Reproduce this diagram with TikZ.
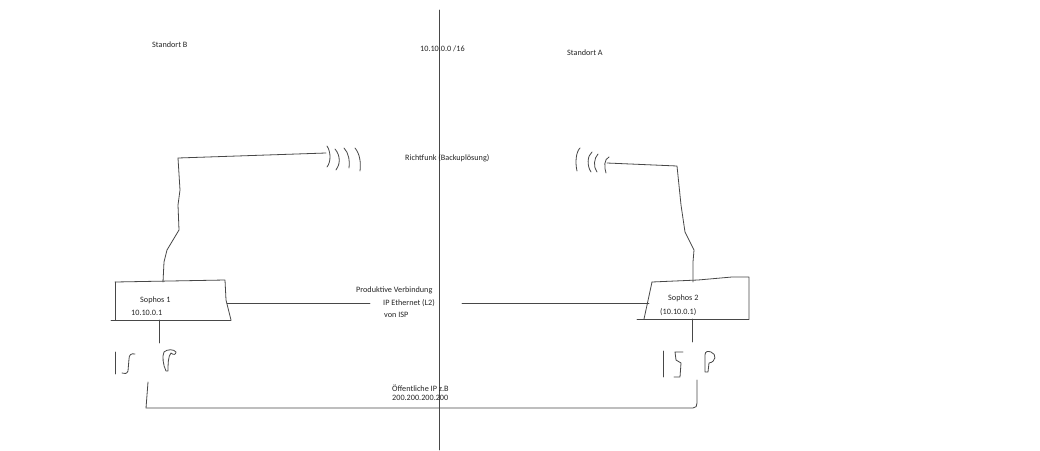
\documentclass[tikz,border=0pt]{standalone}
\usepackage{fontspec}
\setmainfont{Carlito}
\begin{document}
\begin{tikzpicture}[x=1pt,y=-1pt,
  pen/.style={draw=black!72,line width=0.8pt,line join=round,line cap=round},
  lbl/.style={anchor=west,inner sep=0pt,font=\fontsize{8.2}{9}\selectfont,text=black!85}]
\useasboundingbox (0,0) rectangle (1040,450);
\fill[white] (0,0) rectangle (1040,450);
% divider
\coordinate (dtop) at (439.5,10);
\coordinate (dbot) at (439.5,450);
\draw[pen] (dtop) -- (dbot);
% labels
\node[lbl] (stb) at (152,45) {Standort B};
\node[lbl] (net) at (420,49) {10.10.0.0 /16};
\node[lbl] (sta) at (567,53) {Standort A};
\node[lbl] (rf) at (405,158) {Richtfunk (Backuplösung)};
\node[lbl] (pv1) at (356,290) {Produktive Verbindung};
\node[lbl] (pv2) at (383,303) {IP Ethernet (L2)};
\node[lbl] (pv3) at (384,315) {von ISP};
\node[lbl] (oip1) at (392,388) {Öffentliche IP z.B};
\node[lbl] (oip2) at (392,398) {200.200.200.200};
% Sophos 1 box
\coordinate (s1tl) at (115,282);
\coordinate (s1tr) at (225,280);
\coordinate (s1br) at (231,320);
\coordinate (s1bl) at (115,320);
\draw[pen] (s1tl) -- (s1tr) -- (226,300) -- (s1br);
\draw[pen] (s1tl) -- (s1bl);
\draw[pen] (111,320) -- (s1br);
\node[lbl] (s1a) at (140,300) {Sophos 1};
\node[lbl] (s1b) at (131,313) {10.10.0.1};
% Sophos 2 box
\coordinate (s2tl) at (652,282);
\coordinate (s2tr) at (749,277);
\coordinate (s2br) at (749,319);
\coordinate (s2bl) at (644,319);
\draw[pen] (s2tl) -- (698,280) -- (732,277) -- (s2tr) -- (s2br);
\draw[pen] (s2tl) -- (s2bl);
\draw[pen] (637,319) -- (s2br);
\node[lbl] (s2a) at (668,298) {Sophos 2};
\node[lbl] (s2b) at (660,312) {(10.10.0.1)};
% production link
\coordinate (s1r) at (227,303);
\coordinate (pl1) at (370,303);
\coordinate (pr1) at (462,303);
\coordinate (s2l) at (649,303);
\draw[pen] (s1r) -- (pl1);
\draw[pen] (pr1) -- (s2l);
% left antenna link
\coordinate (s1t) at (163,282);
\coordinate (ant1) at (326,153);
\draw[pen] (s1t) -- (164,262) -- (167,250) -- (179,230) -- (178,205) -- (180,190) -- (178,158) -- (ant1);
\draw[pen] (327,146) .. controls (331,152) and (331,162) .. (327,167);
\draw[pen] (335,149) .. controls (341,156) and (340,165) .. (336,170);
\draw[pen] (344,148) .. controls (349,153) and (350,162) .. (349,168);
\draw[pen] (355,148) .. controls (360,154) and (361,163) .. (360,171);
% right antenna link
\coordinate (s2t) at (693,282);
\coordinate (ant2) at (607,163);
\draw[pen] (s2t) -- (693,262) -- (694,250) -- (685,232) -- (681,205) -- (677,166) -- (ant2);
\draw[pen] (580,148) .. controls (576,152) and (575,162) .. (577,171);
\draw[pen] (592,152) .. controls (587,156) and (587,166) .. (591,172);
\draw[pen] (598,154) .. controls (594,158) and (593,167) .. (597,172);
\draw[pen] (609,157) .. controls (604,159) and (604,167) .. (606,173);
% ISP left
\coordinate (s1d) at (159,320);
\coordinate (s1d2) at (159,343);
\draw[pen] (s1d) -- (s1d2);
\draw[pen] (115,352) -- (115,374);
\draw[pen] (135,354) .. controls (131,353) and (129,355) .. (129,359) -- (128,371) .. controls (127,374) and (124,374) .. (122,373);
\draw[pen] (166,371) .. controls (163,365) and (162,356) .. (164,352) .. controls (167,349) and (174,349) .. (176,352) .. controls (176,355) and (173,355) .. (171,353) .. controls (168,356) and (168,365) .. (168,371) -- (166,371);
% ISP right
\coordinate (s2d) at (692,319);
\coordinate (s2d2) at (692,342);
\draw[pen] (s2d) -- (s2d2);
\draw[pen] (663,351) -- (663,377);
\draw[pen] (683,352) -- (675,352) -- (676,360) -- (681,363) -- (680,377) -- (674,377);
\draw[pen] (705,372) -- (705,355) .. controls (705,351) and (708,351) .. (711,352) .. controls (717,354) and (716,362) .. (709,363) -- (708,372) -- (705,372);
% public IP link
\coordinate (pbl) at (148,382);
\coordinate (pbr) at (697,380);
\draw[pen] (pbl) -- (146,408) -- (693,408) .. controls (696,408) and (697,406) .. (697,403) -- (pbr);
\end{tikzpicture}
\end{document}
